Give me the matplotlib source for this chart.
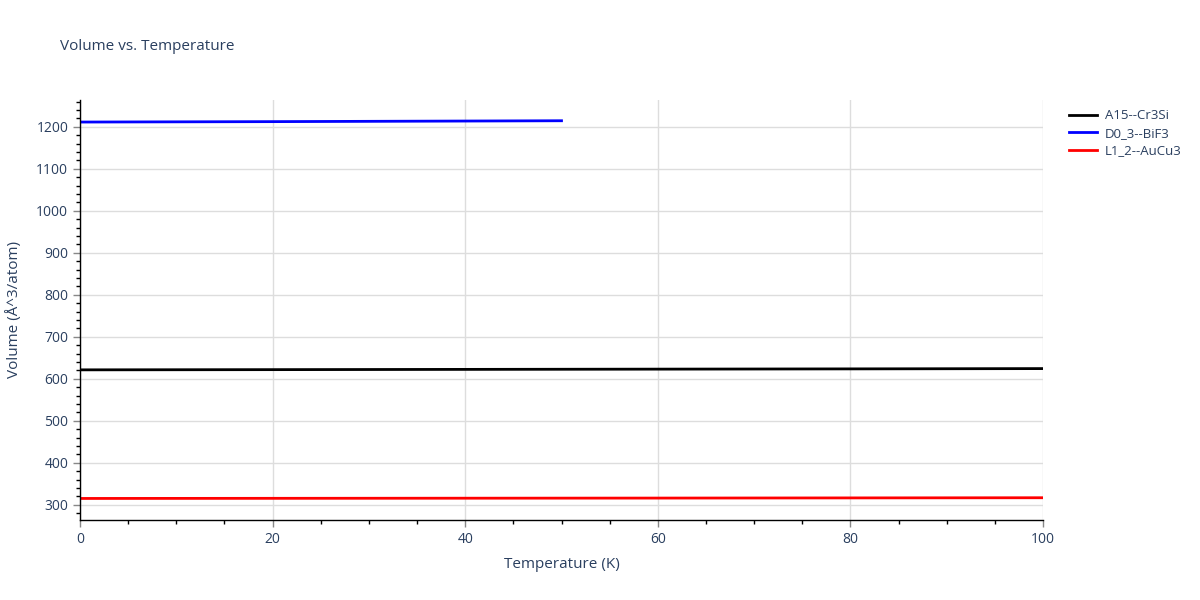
import matplotlib.pyplot as plt
from matplotlib.ticker import MultipleLocator

plt.rcParams['font.family'] = ['Open Sans', 'DejaVu Sans']

# values
temps_a15 = [0, 20, 40, 60, 80, 100]
vol_a15 = [621.5, 622.0, 622.6, 623.2, 623.8, 624.5]

temps_d03 = [0, 10, 20, 30, 40, 50]
vol_d03 = [1211.5, 1212.0, 1212.5, 1213.2, 1213.9, 1214.6]

temps_l12 = [0, 20, 40, 60, 80, 100]
vol_l12 = [315.3, 315.6, 315.9, 316.2, 316.6, 317.0]

labels = ['A15--Cr3Si', 'D0_3--BiF3', 'L1_2--AuCu3']
colors = ['black', 'blue', 'red']
txt = '#2a3f5f'

fig = plt.figure(figsize=(12, 6), dpi=100)
ax = fig.add_axes([80 / 1200, 80 / 600, 963 / 1200, 420 / 600])

for t, v, lab, c in zip([temps_a15, temps_d03, temps_l12],
                        [vol_a15, vol_d03, vol_l12], labels, colors):
    ax.plot(t, v, color=c, lw=2, label=lab)

ax.set_xlim(0, 100)
ax.set_ylim(264, 1264)
ax.xaxis.set_major_locator(MultipleLocator(20))
ax.xaxis.set_minor_locator(MultipleLocator(5))
ax.yaxis.set_major_locator(MultipleLocator(100))
ax.yaxis.set_minor_locator(MultipleLocator(20))
ax.grid(True, which='major', color='#dddddd', lw=1)
ax.set_axisbelow(True)

for s in ['top', 'right']:
    ax.spines[s].set_visible(False)
for s in ['left', 'bottom']:
    ax.spines[s].set_color('black')
    ax.spines[s].set_linewidth(1)

ax.tick_params(which='major', length=5, color='#888888', labelsize=10, labelcolor=txt, width=1)
ax.tick_params(which='minor', length=3, color='black', width=1)

ax.set_xlabel('Temperature (K)', fontsize=11, color=txt, labelpad=7)
ax.set_ylabel('Volume (Å^3/atom)', fontsize=11, color=txt, labelpad=10)
fig.text(60 / 1200, 1 - 46 / 600, 'Volume vs. Temperature', fontsize=11, color=txt, va='center')

fig.legend(loc='upper left', bbox_to_anchor=(1064 / 1200, 1 - 104 / 600), frameon=False,
           fontsize=9.5, labelcolor=txt, handlelength=2.1, handletextpad=0.6, labelspacing=0.35,
           borderaxespad=0)

fig.savefig('out.png', dpi=100)
